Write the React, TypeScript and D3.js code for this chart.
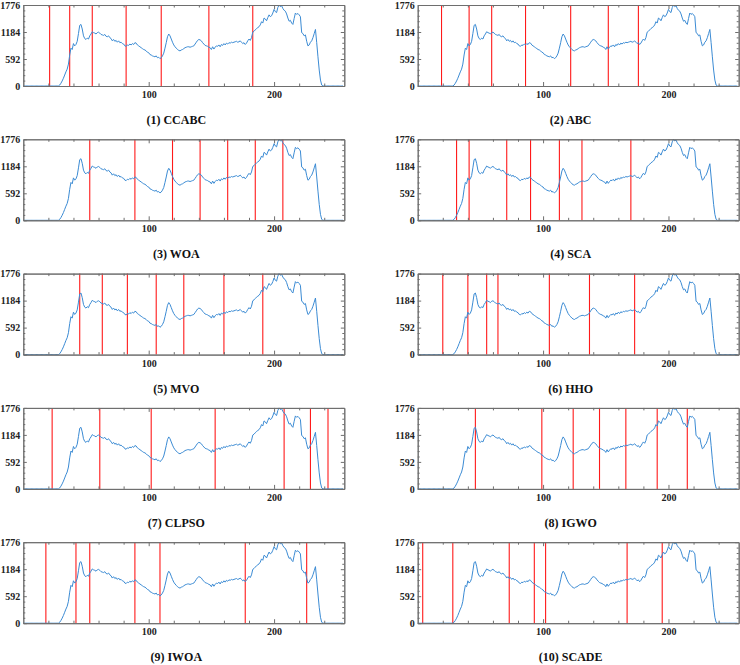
import React, { useEffect, useRef } from "react";
import * as d3 from "d3";

// grey-level histogram (bins 0..255)
const counts = [
  0, 0, 0, 0, 0, 0, 0, 0, 0, 0, 0, 0, 0, 0, 0, 0,
  0, 0, 0, 0, 0, 0, 0, 0, 0, 0, 0, 0, 0, 20, 60, 110,
  170, 240, 310, 370, 480, 680, 830, 800, 930, 880, 910, 980, 1150, 1330, 1350, 1250,
  1100, 1040, 1020, 1050, 1030, 1100, 1140, 1190, 1170, 1160, 1140, 1170, 1180, 1160, 1130, 1120,
  1110, 1130, 1090, 1080, 1100, 1060, 1040, 990, 1020, 980, 1000, 960, 990, 950, 960, 930,
  920, 880, 870, 900, 890, 920, 900, 930, 910, 950, 940, 900, 880, 860, 840, 820,
  800, 790, 770, 740, 730, 690, 680, 660, 650, 640, 660, 620, 630, 600, 620, 660,
  720, 830, 950, 1080, 1140, 1100, 1030, 960, 900, 860, 830, 800, 780, 770, 790, 800,
  820, 840, 850, 860, 860, 850, 860, 870, 880, 920, 960, 1000, 1020, 1010, 990, 950,
  920, 890, 880, 870, 850, 840, 800, 860, 810, 850, 880, 870, 900, 860, 910, 890,
  930, 900, 940, 920, 950, 940, 960, 950, 960, 970, 980, 960, 970, 990, 960, 930,
  950, 910, 940, 990, 1030, 1000, 1060, 1180, 1200, 1230, 1260, 1280, 1300, 1340, 1410, 1380,
  1490, 1470, 1430, 1500, 1560, 1520, 1540, 1600, 1680, 1630, 1610, 1720, 1776, 1740, 1760, 1700,
  1660, 1640, 1580, 1490, 1420, 1440, 1380, 1350, 1480, 1600, 1570, 1590, 1560, 1520, 1170, 1150,
  1100, 1120, 980, 880, 900, 960, 990, 1060, 1150, 1240, 950, 640, 350, 130, 20, 0,
  0, 0, 0, 0, 0, 0, 0, 0, 0, 0, 0, 0, 0, 0, 0, 0,
];

const methods = ["CCABC", "ABC", "WOA", "SCA", "MVO", "HHO", "CLPSO", "IGWO", "IWOA", "SCADE"];

const thresholds = [
  [21, 37, 55, 82, 110, 148, 183],
  [19, 41, 59, 86, 122, 152, 176],
  [53, 89, 119, 141, 163, 185, 207],
  [31, 41, 71, 90, 113, 131, 170],
  [45, 63, 83, 106, 128, 160, 191],
  [20, 40, 55, 64, 105, 137, 173],
  [23, 61, 102, 153, 208, 229, 243],
  [46, 99, 124, 145, 166, 191, 215],
  [18, 42, 53, 89, 109, 177, 226],
  [4, 28, 73, 93, 102, 167, 195],
];

const yMajor = [0, 592, 1184, 1776];
const xMajor = [100, 200];

const App = () => {
  const ref = useRef(null);

  const width = 740;
  const height = 665;
  const w = 321;
  const h = 81;
  const colX = [23.3, 417.7];
  const rowY = (r) => 5 + r * 134.3;

  useEffect(() => {
    const svg = d3.select(ref.current);
    svg.selectAll("*").remove();

    const x = d3.scaleLinear().domain([0, 256]).range([0, w]);
    const y = d3.scaleLinear().domain([0, 1776]).range([h, 0]);

    const line = d3
      .line()
      .x((d, i) => x(i))
      .y((d) => y(d));

    const xMinor = d3.range(20, 256, 20).filter((v) => xMajor.indexOf(v) < 0);
    const yMinor = d3.range(0, 1776, 118.4).filter((v, i) => i % 5 !== 0);

    const frame = "#6e6e6e";
    const font = "'Liberation Serif', 'Times New Roman', serif";

    const styleAxis = (g) => {
      g.select(".domain").attr("stroke", frame);
      g.selectAll(".tick line").attr("stroke", frame);
      g.selectAll(".tick text")
        .attr("font-family", font)
        .attr("font-weight", "bold")
        .attr("font-size", 10)
        .attr("fill", "#222");
    };

    methods.forEach((name, k) => {
      const g = svg
        .append("g")
        .attr("transform", `translate(${colX[k % 2]},${rowY(Math.floor(k / 2))})`);

      g.append("rect")
        .attr("width", w)
        .attr("height", h)
        .attr("fill", "white");

      // thresholds
      g.selectAll(".thr")
        .data(thresholds[k])
        .join("line")
        .attr("x1", (d) => x(d))
        .attr("x2", (d) => x(d))
        .attr("y1", 0)
        .attr("y2", h)
        .attr("stroke", "#ff1a1a")
        .attr("stroke-width", 1.1);

      g.append("path")
        .datum(counts)
        .attr("fill", "none")
        .attr("stroke", "#3b8bd4")
        .attr("stroke-width", 1)
        .attr("stroke-linejoin", "round")
        .attr("d", line);

      // bottom
      g.append("g")
        .attr("transform", `translate(0,${h})`)
        .call(d3.axisBottom(x).tickValues(xMinor).tickSize(-2.5).tickSizeOuter(0).tickFormat(""))
        .call(styleAxis);
      g.append("g")
        .attr("transform", `translate(0,${h})`)
        .call(d3.axisBottom(x).tickValues(xMajor).tickSize(-4).tickSizeOuter(0).tickPadding(5))
        .call(styleAxis);
      // top
      g.append("g")
        .call(d3.axisTop(x).tickValues(xMinor).tickSize(-2.5).tickSizeOuter(0).tickFormat(""))
        .call(styleAxis);
      g.append("g")
        .call(d3.axisTop(x).tickValues(xMajor).tickSize(-4).tickSizeOuter(0).tickFormat(""))
        .call(styleAxis);
      // left
      g.append("g")
        .call(d3.axisLeft(y).tickValues(yMinor).tickSize(-2).tickSizeOuter(0).tickFormat(""))
        .call(styleAxis);
      g.append("g")
        .call(d3.axisLeft(y).tickValues(yMajor).tickSize(-3.5).tickSizeOuter(0).tickPadding(3).tickFormat(d3.format("d")))
        .call(styleAxis);
      // right
      g.append("g")
        .attr("transform", `translate(${w},0)`)
        .call(d3.axisRight(y).tickValues(yMinor).tickSize(-2).tickSizeOuter(0).tickFormat(""))
        .call(styleAxis);
      g.append("g")
        .attr("transform", `translate(${w},0)`)
        .call(d3.axisRight(y).tickValues(yMajor).tickSize(-3.5).tickSizeOuter(0).tickFormat(""))
        .call(styleAxis);

      g.append("text")
        .attr("x", 153)
        .attr("y", h + 38)
        .attr("text-anchor", "middle")
        .attr("font-family", font)
        .attr("font-weight", "bold")
        .attr("font-size", 12)
        .attr("fill", "#111")
        .text(`(${k + 1}) ${name}`);
    });
  }, []);

  return (
    <svg
      ref={ref}
      width={width}
      height={height}
      style={{ position: "absolute", left: 0, top: 0, background: "white" }}
    />
  );
};

export default App;
